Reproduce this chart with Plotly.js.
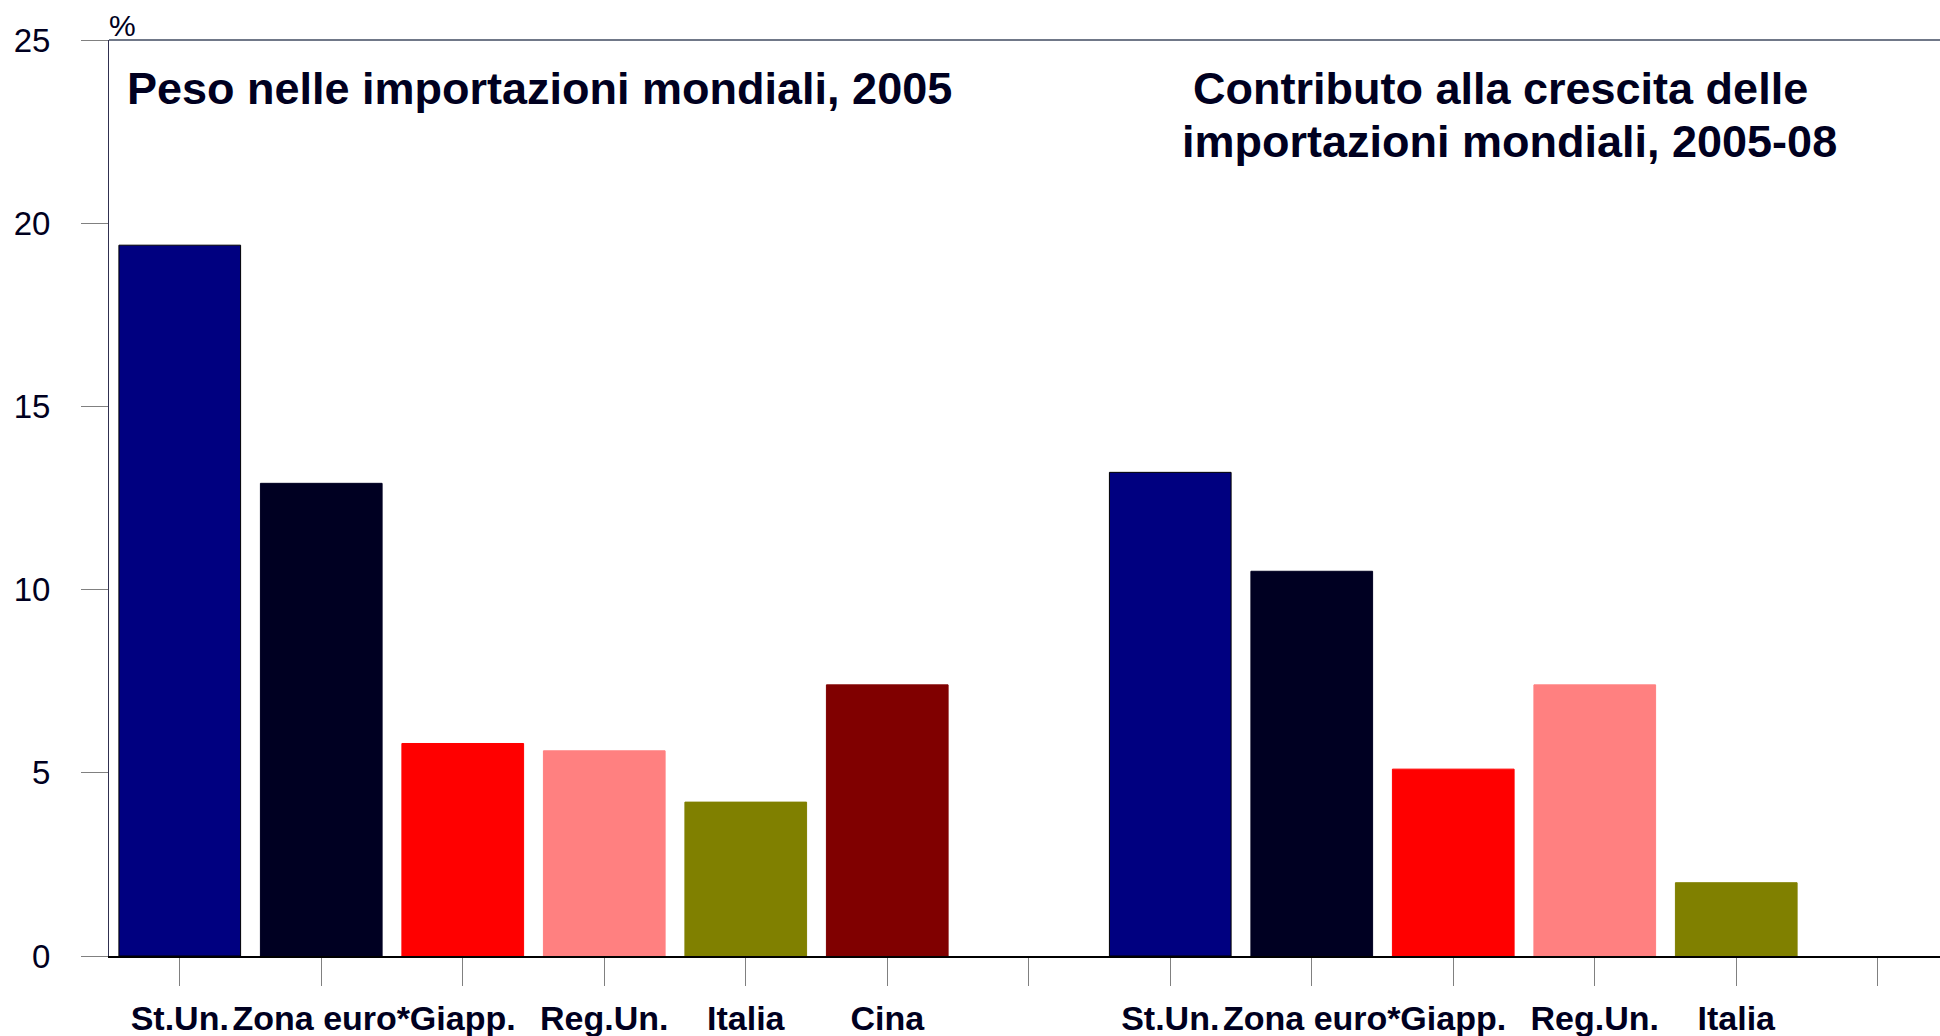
<!DOCTYPE html>
<html>
<head>
<meta charset="utf-8">
<script src="https://cdn.plot.ly/plotly-3.0.1.min.js"></script>
<style>
  html, body { margin: 0; padding: 0; background: #ffffff; }
  #chart { width: 1940px; height: 1036px; }
</style>
</head>
<body>
<div id="chart"></div>
<script>
// ---- data ----
const countries = ["St.Un.", "Zona euro*", "Giapp.", "Reg.Un.", "Italia", "Cina"];
const share2005 = [19.4, 12.9, 5.8, 5.6, 4.2, 7.4];          // Peso nelle importazioni mondiali, 2005
const contribCountries = ["St.Un.", "Zona euro*", "Giapp.", "Reg.Un.", "Italia"];
const contrib2005_08 = [13.2, 10.5, 5.1, 7.4, 2.0];          // Contributo alla crescita delle importazioni mondiali, 2005-08
const countryColors = {
  "St.Un.": "#000080",
  "Zona euro*": "#000022",
  "Giapp.": "#FF0000",
  "Reg.Un.": "#FF8080",
  "Italia": "#808000",
  "Cina": "#800000"
};
const title1 = "Peso nelle importazioni mondiali, 2005";
const title2a = "Contributo alla crescita delle";
const title2b = "importazioni mondiali, 2005-08";
const yTicks = [0, 5, 10, 15, 20, 25];

// ---- positions on a numeric axis: group 1, empty slot, group 2, empty slot ----
const offset2 = countries.length + 1;
const x1 = countries.map((_, i) => i);
const x2 = contribCountries.map((_, i) => i + offset2);
const nSlots = offset2 + contribCountries.length + 1;
const tickvals = [];
const ticktext = [];
for (let i = 0; i < nSlots; i++) {
  tickvals.push(i);
  if (i < countries.length) ticktext.push(countries[i]);
  else if (i >= offset2 && i - offset2 < contribCountries.length) ticktext.push(contribCountries[i - offset2]);
  else ticktext.push("");
}

const darkText = "#000020";
const fam = "Liberation Sans, Arial, sans-serif";

const traces = [
  {
    type: "bar",
    x: x1,
    y: share2005,
    width: 0.86,
    marker: {
      color: countries.map(c => countryColors[c]),
      line: { color: countries.map(c => c === "St.Un." ? "#000000" : countryColors[c]), width: 1 }
    },
    hoverinfo: "y",
    showlegend: false
  },
  {
    type: "bar",
    x: x2,
    y: contrib2005_08,
    width: 0.86,
    marker: {
      color: contribCountries.map(c => countryColors[c]),
      line: { color: contribCountries.map(c => c === "St.Un." ? "#000000" : countryColors[c]), width: 1 }
    },
    hoverinfo: "y",
    showlegend: false
  }
];

// plot frame in pixels
const L = 109, T = 40, W = 1831, H = 916;
const px = p => (p - L) / W;
const py = p => 1 - (p - T) / H;

const layout = {
  width: 1940,
  height: 1036,
  margin: { l: L, r: 1940 - L - W, t: T, b: 1036 - T - H, pad: 0 },
  paper_bgcolor: "#ffffff",
  plot_bgcolor: "#ffffff",
  barmode: "overlay",
  font: { family: fam, color: darkText },
  xaxis: {
    range: [-0.5, -0.5 + W / 141.5],
    tickmode: "array",
    tickvals: tickvals,
    ticktext: ticktext,
    tickangle: 0,
    ticks: "outside",
    ticklen: 28,
    tickwidth: 1,
    tickcolor: "#808080",
    showline: true,
    linecolor: "#000000",
    linewidth: 2,
    showgrid: false,
    zeroline: false,
    tickfont: { family: fam, size: 34, color: darkText, weight: "bold" },
    ticklabelstandoff: 3,
    fixedrange: true
  },
  yaxis: {
    range: [0, 25],
    tickmode: "array",
    tickvals: yTicks,
    ticktext: yTicks.map(String),
    ticks: "outside",
    ticklen: 27,
    tickwidth: 1,
    tickcolor: "#808080",
    showline: true,
    linecolor: "#303050",
    linewidth: 1,
    showgrid: false,
    zeroline: false,
    tickfont: { family: fam, size: 33, color: darkText },
    ticklabelstandoff: 24,
    fixedrange: true
  },
  shapes: [
    { type: "line", xref: "paper", yref: "paper", x0: 0, x1: 1, y0: 1, y1: 1,
      line: { color: "#707888", width: 2 } }
  ],
  annotations: [
    { text: "%", xref: "paper", yref: "paper", x: px(107), y: 1, xanchor: "left", yanchor: "bottom",
      yshift: -4, showarrow: false, font: { family: fam, size: 30, color: darkText } },
    { text: title1, xref: "paper", yref: "paper", x: px(125), y: py(89), xanchor: "left", yanchor: "middle",
      showarrow: false, font: { family: fam, size: 45, color: darkText, weight: "bold" } },
    { text: title2a, xref: "paper", yref: "paper", x: px(1500), y: py(88), xanchor: "center", yanchor: "middle",
      showarrow: false, font: { family: fam, size: 45, color: darkText, weight: "bold" } },
    { text: title2b, xref: "paper", yref: "paper", x: px(1509), y: py(141), xanchor: "center", yanchor: "middle",
      showarrow: false, font: { family: fam, size: 45, color: darkText, weight: "bold" } }
  ]
};

Plotly.newPlot("chart", traces, layout, { displayModeBar: false, staticPlot: true });
</script>
</body>
</html>
